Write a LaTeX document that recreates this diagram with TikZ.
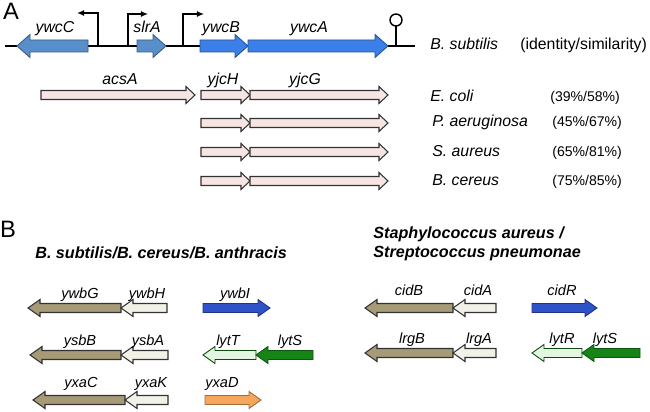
\documentclass[tikz,border=0pt]{standalone}
\usepackage{fontspec}
\setmainfont{Liberation Sans}
\usepackage{tikz}
\usetikzlibrary{arrows.meta}

\definecolor{steelb}{RGB}{88,142,202}
\definecolor{brightb}{RGB}{58,128,232}
\definecolor{pinkf}{RGB}{246,229,226}
\definecolor{khaki}{RGB}{166,155,118}
\definecolor{offw}{RGB}{241,241,232}
\definecolor{darkb}{RGB}{48,82,200}
\definecolor{lgreen}{RGB}{226,246,226}
\definecolor{dgreen}{RGB}{22,132,22}
\definecolor{orng}{RGB}{246,166,92}

% gene arrow: tail x, tip x, y, style
\newcommand{\gene}[4]{%
  \pgfmathsetmacro\gnhb{#2-\glen*sign(#2-#1)}
  \filldraw[#4] (#1,#3-\gbody) -- (\gnhb,#3-\gbody) -- (\gnhb,#3-\ghead) -- (#2,#3)
     -- (\gnhb,#3+\ghead) -- (\gnhb,#3+\gbody) -- (#1,#3+\gbody) -- cycle;}

\tikzset{
  gn/.style={draw=#1!65!black, fill=#1, line width=0.5pt},
  gp/.style={draw=black!80, fill=#1, line width=0.6pt},
  lbl/.style={font=\fontsize{9}{10}\selectfont\itshape, anchor=base, inner sep=0pt},
  lblb/.style={font=\fontsize{8.3}{9}\selectfont\itshape, anchor=base, inner sep=0pt},
  spc/.style={font=\fontsize{9}{10}\selectfont\itshape, anchor=base west, inner sep=0pt},
  pct/.style={font=\fontsize{8}{9}\selectfont, anchor=base west, inner sep=0pt},
  hdr/.style={font=\fontsize{9.2}{11}\selectfont\bfseries\itshape, anchor=base west, inner sep=0pt},
  panel/.style={font=\fontsize{13.5}{14}\selectfont, anchor=base, inner sep=0pt},
  prom/.style={line width=0.8pt, -{Latex[length=4pt,width=3.5pt]}}
}

\begin{document}
\begin{tikzpicture}[x=0.02cm, y=-0.02cm]
		\useasboundingbox (0,0) rectangle (650,412);
		\fill[white] (0,0) rectangle (650,412);
		% panel A
		\node[panel] (pA) at (11,20) {A};
		\draw[line width=0.7pt] (5,46) -- (415,46);
		\draw[prom] (98,46) -- (98,13) -- (77,13);
		\draw[prom] (128,46) -- (128,14) -- (148,14);
		\draw[prom] (183,46) -- (183,14) -- (204,14);
		\def\gbody{6}\def\ghead{11.5}\def\glen{13}
		\gene{88}{17}{46}{gn=steelb}
		\gene{137}{166}{46}{gn=steelb}
		\gene{200}{248}{46}{gn=brightb}
		\gene{248}{388}{46}{gn=brightb}
		\draw[line width=0.8pt] (396,46) -- (396,26);
		\draw[line width=0.8pt] (396,20) circle (6);
		\node[lbl] (lywcC) at (55,33) {ywcC};
		\node[lbl] (lslrA) at (147,33) {slrA};
		\node[lbl] (lywcB) at (221,33) {ywcB};
		\node[lbl] (lywcA) at (309,33) {ywcA};
		\node[spc] (sBsu) at (430,50) {B. subtilis};
		\node[font=\fontsize{9}{10}\selectfont, anchor=base west, inner sep=0pt] (ident) at (520,50) {(identity/similarity)};
		% homologues
		\def\gbody{4.5}\def\ghead{8.5}\def\glen{9}
		\gene{41}{195}{95}{gp=pinkf}
		\foreach \y in {95,123,152,181}{
			\gene{201}{250}{\y}{gp=pinkf}
			\gene{250}{388}{\y}{gp=pinkf}
		}
		\node[lbl] (lacsA) at (120,85) {acsA};
		\node[lbl] (lyjcH) at (223,85) {yjcH};
		\node[lbl] (lyjcG) at (305,85) {yjcG};
		\node[spc] (sEco) at (430,102) {E. coli};
		\node[spc] (sPae) at (432,127) {P. aeruginosa};
		\node[spc] (sSau) at (432,157) {S. aureus};
		\node[spc] (sBce) at (432,186) {B. cereus};
		\node[pct] (pEco) at (550,102) {(39\%/58\%)};
		\node[pct] (pPae) at (552,127) {(45\%/67\%)};
		\node[pct] (pSau) at (552,157) {(65\%/81\%)};
		\node[pct] (pBce) at (552,186) {(75\%/85\%)};
		% panel B
		\node[panel] (pB) at (8,237) {B};
		\node[hdr] (hBac) at (35,258) {B. subtilis/B. cereus/B. anthracis};
		\node[hdr] (hSta) at (373,238) {Staphylococcus aureus /};
		\node[hdr] (hStr) at (373,257) {Streptococcus pneumonae};
		\def\gbody{4.5}\def\ghead{8.5}\def\glen{12}
		\gene{121}{28}{308}{gp=khaki}
		\gene{167}{121}{308}{gp=offw}
		\gene{203}{270}{308}{gn=darkb}
		\gene{121}{30}{355}{gp=khaki}
		\gene{168}{121}{355}{gp=offw}
		\gene{256}{203}{355}{gn=lgreen, draw=dgreen!55!black}
		\gene{313}{256}{355}{gn=dgreen}
		\gene{125}{33}{400}{gp=khaki}
		\gene{168}{125}{400}{gp=offw}
		\gene{205}{261}{400}{gn=orng}
		\gene{453}{365}{308}{gp=khaki}
		\gene{496}{453}{308}{gp=offw}
		\gene{532}{597}{308}{gn=darkb}
		\gene{453}{365}{353}{gp=khaki}
		\gene{496}{453}{353}{gp=offw}
		\gene{582}{532}{353}{gn=lgreen, draw=dgreen!55!black}
		\gene{640}{582}{353}{gn=dgreen}
		\node[lblb] (lywbG) at (80,298) {ywbG};
		\node[lblb] (lywbH) at (147,298) {ywbH};
		\node[lblb] (lywbI) at (235,298) {ywbI};
		\node[lblb] (lysbB) at (80,345) {ysbB};
		\node[lblb] (lysbA) at (148,345) {ysbA};
		\node[lblb] (llytT) at (228,345) {lytT};
		\node[lblb] (llytSb) at (290,345) {lytS};
		\node[lblb] (lyxaC) at (81,387) {yxaC};
		\node[lblb] (lyxaK) at (151,387) {yxaK};
		\node[lblb] (lyxaD) at (222,387) {yxaD};
		\node[lblb] (lcidB) at (409,296) {cidB};
		\node[lblb] (lcidA) at (478,296) {cidA};
		\node[lblb] (lcidR) at (562,296) {cidR};
		\node[lblb] (llrgB) at (412,343) {lrgB};
		\node[lblb] (llrgA) at (479,343) {lrgA};
		\node[lblb] (llytR) at (562,343) {lytR};
		\node[lblb] (llytS) at (605,343) {lytS};
\end{tikzpicture}
\end{document}
